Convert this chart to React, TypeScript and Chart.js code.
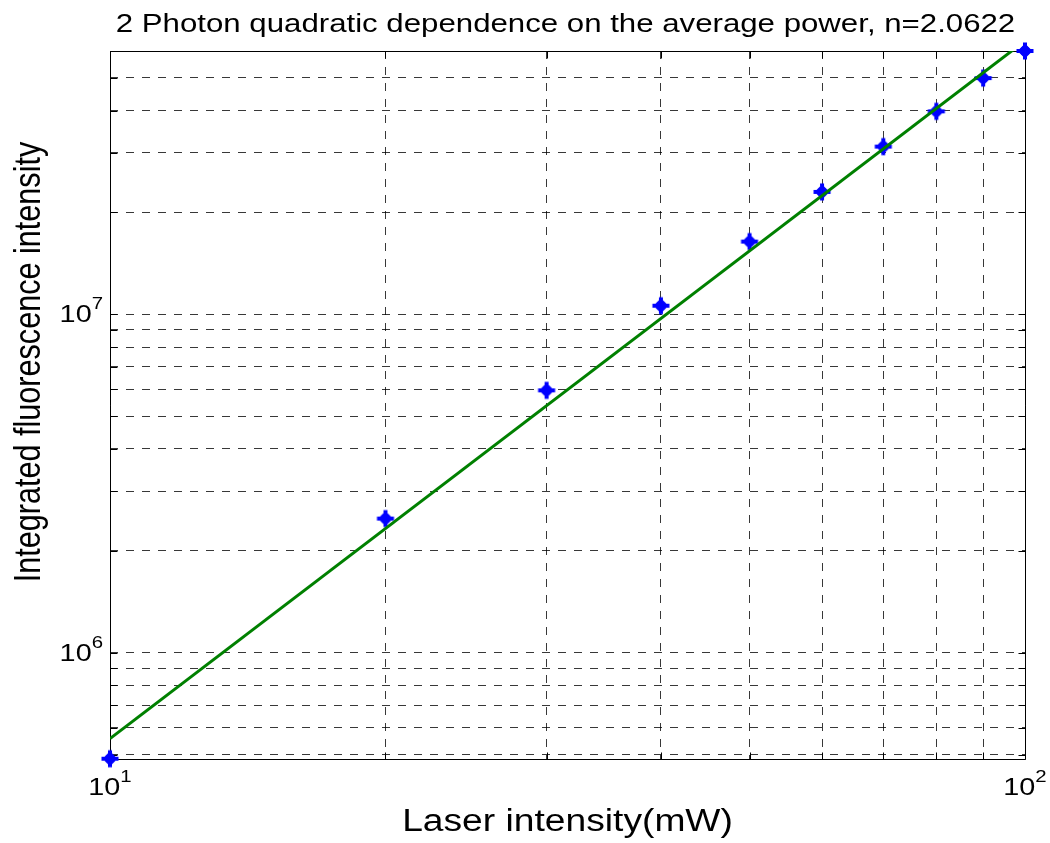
import { useEffect, useRef } from 'react';
import { Chart, registerables } from 'chart.js';

Chart.register(...registerables);

// ---- data ----
const laserPowerMW = [10, 20, 30, 40, 50, 60, 70, 80, 90, 100];
const fluorescence = [4.86e5, 2.49e6, 5.96e6, 1.06e7, 1.64e7, 2.3e7, 3.13e7, 3.98e7, 4.99e7, 6.0e7];
const fitPowerMW = [10, 100];
const fitFluorescence = [5.57e5, 6.43e7];

const xGridValues = [10, 20, 30, 40, 50, 60, 70, 80, 90, 100];
const yGridValues = [
  5e5, 6e5, 7e5, 8e5, 9e5,
  1e6, 2e6, 3e6, 4e6, 5e6, 6e6, 7e6, 8e6, 9e6,
  1e7, 2e7, 3e7, 4e7, 5e7, 6e7,
];
const xLabelValues = [10, 100];
const xLabelExponents = ['1', '2'];
const yLabelValues = [1e6, 1e7];
const yLabelExponents = ['6', '7'];

const xMin = 10;
const xMax = 100;
const yMin = 4.85e5;
const yMax = 6.0e7;

const titleText = '2 Photon quadratic dependence on the average power, n=2.0622';
const xTitleText = 'Laser intensity(mW)';
const yTitleText = 'Integrated fluorescence intensity';

const FONT = '"Liberation Sans", Arial, Helvetica, sans-serif';
const SX = 1.2;

function stretchedText(
  ctx: CanvasRenderingContext2D,
  text: string,
  x: number,
  y: number,
  size: number,
  align: CanvasTextAlign,
  rotate = false
) {
  ctx.save();
  ctx.translate(x, y);
  ctx.scale(SX, 1);
  if (rotate) ctx.rotate(-Math.PI / 2);
  ctx.font = `${size}px ${FONT}`;
  ctx.textAlign = align;
  ctx.textBaseline = 'alphabetic';
  ctx.fillStyle = '#000';
  ctx.fillText(text, 0, 0);
  ctx.restore();
}

function powerLabel(
  ctx: CanvasRenderingContext2D,
  exp: string,
  anchorX: number,
  baseY: number,
  align: 'center' | 'right'
) {
  ctx.save();
  ctx.font = `24px ${FONT}`;
  const wBase = ctx.measureText('10').width * SX;
  ctx.font = `17px ${FONT}`;
  const wExp = ctx.measureText(exp).width * SX;
  ctx.restore();
  const total = wBase + wExp;
  const left = align === 'center' ? anchorX - total / 2 : anchorX - total;
  stretchedText(ctx, '10', left, baseY, 24, 'left');
  stretchedText(ctx, exp, left + wBase, baseY - 13, 17, 'left');
}

function makeMarker(): HTMLCanvasElement {
  const size = 20;
  const c = document.createElement('canvas');
  c.width = size;
  c.height = size;
  const g = c.getContext('2d') as CanvasRenderingContext2D;
  const m = size / 2;
  g.fillStyle = '#0000ff';
  g.strokeStyle = '#0000ff';
  // diamond core
  g.beginPath();
  g.moveTo(m, m - 7.5);
  g.lineTo(m + 7.5, m);
  g.lineTo(m, m + 7.5);
  g.lineTo(m - 7.5, m);
  g.closePath();
  g.fill();
  // plus arms
  g.lineWidth = 4;
  g.lineCap = 'butt';
  g.beginPath();
  g.moveTo(m, m - 8.5);
  g.lineTo(m, m + 8.5);
  g.moveTo(m - 8.5, m);
  g.lineTo(m + 8.5, m);
  g.stroke();
  // rounded center
  g.beginPath();
  g.arc(m, m, 5, 0, Math.PI * 2);
  g.fill();
  return c;
}

const framePlugin = {
  id: 'matlabFrame',
  beforeDatasetsDraw(chart: any) {
    const ctx: CanvasRenderingContext2D = chart.ctx;
    const { left, right, top, bottom } = chart.chartArea;
    const xs = chart.scales.x;
    const ys = chart.scales.y;
    const L = Math.round(left) + 0.5;
    const R = Math.round(right) + 0.5;
    const T = Math.round(top) + 0.5;
    const B = Math.round(bottom) + 0.5;
    ctx.save();
    ctx.strokeStyle = '#000';
    ctx.lineWidth = 1;
    ctx.setLineDash([]);
    ctx.beginPath();
    ctx.rect(L, T, R - L, B - T);
    ctx.stroke();
    const tl = 7;
    ctx.beginPath();
    xGridValues.forEach((v) => {
      const px = Math.round(xs.getPixelForValue(v)) + 0.5;
      ctx.moveTo(px, B);
      ctx.lineTo(px, B - tl);
      ctx.moveTo(px, T);
      ctx.lineTo(px, T + tl);
    });
    yGridValues.forEach((v) => {
      const py = Math.round(ys.getPixelForValue(v)) + 0.5;
      ctx.moveTo(L, py);
      ctx.lineTo(L + tl, py);
      ctx.moveTo(R, py);
      ctx.lineTo(R - tl, py);
    });
    ctx.stroke();
    ctx.restore();
  },
  afterDraw(chart: any) {
    const ctx: CanvasRenderingContext2D = chart.ctx;
    const { left, right, bottom } = chart.chartArea;
    const xs = chart.scales.x;
    const ys = chart.scales.y;
    // title
    stretchedText(ctx, titleText, (left + right) / 2 - 2, 32, 26, 'center');
    // x axis title
    stretchedText(ctx, xTitleText, (left + right) / 2, 831, 31, 'center');
    // y axis title
    stretchedText(ctx, yTitleText, 40, 362, 30.6, 'center', true);
    // tick labels
    xLabelValues.forEach((v, i) => {
      powerLabel(ctx, xLabelExponents[i], xs.getPixelForValue(v), bottom + 36, 'center');
    });
    yLabelValues.forEach((v, i) => {
      powerLabel(ctx, yLabelExponents[i], left - 7, ys.getPixelForValue(v) + 8, 'right');
    });
  },
};

export default function App() {
  const canvasRef = useRef<HTMLCanvasElement | null>(null);

  useEffect(() => {
    document.body.style.margin = '0';
    const canvas = canvasRef.current;
    if (!canvas) return;

    const gridStyle = {
      display: true,
      drawTicks: false,
      color: 'rgba(0,0,0,0.78)',
      lineWidth: 1,
    };

    const marker = makeMarker();

    const chart = new Chart(canvas, {
      type: 'scatter',
      data: {
        datasets: [
          {
            type: 'line',
            label: 'fit',
            data: fitPowerMW.map((x, i) => ({ x, y: fitFluorescence[i] })),
            borderColor: '#008000',
            backgroundColor: '#008000',
            borderWidth: 3,
            pointRadius: 0,
            fill: false,
            tension: 0,
          } as any,
          {
            type: 'scatter',
            label: 'data',
            data: laserPowerMW.map((x, i) => ({ x, y: fluorescence[i] })),
            pointStyle: marker,
            pointRadius: 9,
            borderColor: '#0000ff',
            backgroundColor: '#0000ff',
            clip: false,
          } as any,
        ],
      },
      options: {
        responsive: false,
        animation: false,
        devicePixelRatio: 1,
        layout: { padding: { left: 0, right: 25, top: 51, bottom: 0 } },
        plugins: {
          legend: { display: false },
          title: { display: false },
          tooltip: { enabled: false },
        },
        events: [],
        scales: {
          x: {
            type: 'logarithmic',
            min: xMin,
            max: xMax,
            bounds: 'data',
            grid: gridStyle,
            border: { display: false, dash: [8, 8] },
            ticks: { display: false },
            afterBuildTicks: (scale: any) => {
              scale.ticks = xGridValues.map((value) => ({ value }));
            },
            afterFit: (scale: any) => {
              scale.height = 84;
            },
          },
          y: {
            type: 'logarithmic',
            min: yMin,
            max: yMax,
            bounds: 'data',
            grid: gridStyle,
            border: { display: false, dash: [8, 8] },
            ticks: { display: false },
            afterBuildTicks: (scale: any) => {
              scale.ticks = yGridValues.map((value) => ({ value }));
            },
            afterFit: (scale: any) => {
              scale.width = 110;
            },
          },
        },
      } as any,
      plugins: [framePlugin],
    });

    return () => {
      chart.destroy();
    };
  }, []);

  return (
    <div style={{ width: 1050, height: 843, margin: 0, padding: 0, background: '#fff' }}>
      <canvas ref={canvasRef} width={1050} height={843} style={{ display: 'block' }} />
    </div>
  );
}
